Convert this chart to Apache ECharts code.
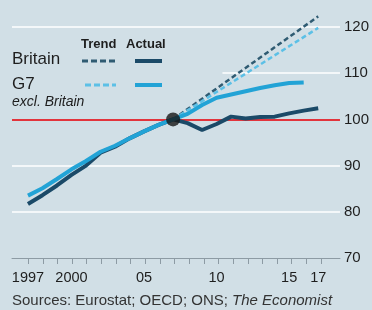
<!DOCTYPE html>
<html><head><meta charset="utf-8">
<script src="https://cdn.jsdelivr.net/npm/echarts@6/dist/echarts.min.js"></script>
<style>html,body{margin:0;padding:0;background:#d1dfe6}#c{width:372px;height:310px}</style>
</head><body><div id="c"></div>
<script>
var years = [1997,1998,1999,2000,2001,2002,2003,2004,2005,2006,2007,2008,2009,2010,2011,2012,2013,2014,2015,2016,2017];
var britainActual = [81.7,83.6,85.7,88.0,90.0,92.8,94.1,95.9,97.4,98.8,100,99.2,97.7,99.0,100.6,100.2,100.5,100.6,101.3,101.9,102.4];
var g7Actual = [83.5,85.1,87.1,89.2,91.0,93.0,94.3,95.9,97.4,98.8,100,101.2,103.1,104.7,105.4,106.1,106.8,107.4,107.9,108.0,null];
var trendYears = [2007,2017];
var britainTrend = [100,122.3];
var g7Trend = [100,119.8];
var baseYear = 2007, baseValue = 100;
var xTickYears = ['1997','1998','1999','2000','2001','2002','2003','2004','2005','2006','2007','2008','2009','2010','2011','2012','2013','2014','2015','2016','2017'];
var xLabelYears = [1997,2000,2005,2010,2015,2017];
var xLabelTexts = ['1997','2000','05','10','15','17'];
var yTicks = [70,80,90,100,110,120];

function pairs(xs, ys){ return xs.map(function(x,i){ return [x, ys[i]]; }); }

var C_BRIT = '#1b4a68', C_G7 = '#22a3d6', C_BRIT_T = '#2f5b72', C_G7_T = '#5cc0e6';
var REG = "'Liberation Sans', sans-serif";
var TXT = '#1e1e1e';
var chart = echarts.init(document.getElementById('c'), null, {renderer:'canvas'});
chart.setOption({
  backgroundColor: '#d1dfe6',
  animation: false,
  grid: [
    {left: 12, right: 29, top: 27, bottom: 52},
    {left: 20.79, right: 43.64, top: 27, bottom: 52}
  ],
  xAxis: [{
    type: 'value', min: 1995.9, max: 2018.5, gridIndex: 0,
    axisLine: {show: true, onZero: false, lineStyle: {color: '#8d9ba4', width: 1}},
    axisTick: {show: false},
    axisLabel: {customValues: xLabelYears, margin: 12, fontFamily: REG, fontSize: 14.5, color: TXT,
      formatter: function(v){ var i = xLabelYears.indexOf(Math.round(v)); return i >= 0 ? xLabelTexts[i] : ''; }},
    splitLine: {show: false}
  }, {
    type: 'category', data: xTickYears, gridIndex: 1, boundaryGap: true,
    axisLine: {show: false},
    axisTick: {show: true, alignWithLabel: true, interval: 0, length: 6, lineStyle: {color: '#8d9ba4'}},
    axisLabel: {show: false}, splitLine: {show: false}
  }],
  yAxis: [{
    type: 'value', position: 'right', min: yTicks[0], max: yTicks[yTicks.length-1], interval: 10, gridIndex: 0,
    axisLine: {show: false}, axisTick: {show: false},
    axisLabel: {margin: 4, fontFamily: REG, fontSize: 15, color: TXT},
    splitLine: {show: true, lineStyle: {width: 2, color: ['rgba(0,0,0,0)','#f3f7f9','#f3f7f9','#e2343c','rgba(0,0,0,0)','#f3f7f9']}}
  }, {
    type: 'value', gridIndex: 1, show: false, min: 0, max: 1
  }],
  series: [
    {name: 'Britain trend', type: 'line', data: pairs(trendYears, britainTrend), showSymbol: false, clip: false,
      lineStyle: {color: C_BRIT_T, width: 2.5, type: [5,3]},
      markLine: {silent: true, symbol: 'none', label: {show: false}, z: 1,
        lineStyle: {color: '#f3f7f9', width: 2, type: 'solid'},
        emphasis: {disabled: true},
        data: [[{coord: [2010.4, 110]}, {coord: [2018.5, 110]}]]}},
    {name: 'G7 trend', type: 'line', data: pairs(trendYears, g7Trend), showSymbol: false, clip: false,
      lineStyle: {color: C_G7_T, width: 2.5, type: [5,3]}},
    {name: 'Britain', type: 'line', data: pairs(years, britainActual), showSymbol: false, clip: false,
      lineStyle: {color: C_BRIT, width: 4}},
    {name: 'G7 excl. Britain', type: 'line', data: pairs(years, g7Actual), showSymbol: false, clip: false, connectNulls: false,
      lineStyle: {color: C_G7, width: 4}},
    {type: 'scatter', data: [[baseYear, baseValue]], symbolSize: 14, itemStyle: {color: '#161616'}, z: 5}
  ],
  graphic: [
    {type: 'text', left: 81, top: 38, style: {text: 'Trend', font: 'bold 13px ' + REG, fill: TXT}},
    {type: 'text', left: 126, top: 38, style: {text: 'Actual', font: 'bold 13px ' + REG, fill: TXT}},
    {type: 'text', left: 12, top: 51, style: {text: 'Britain', font: '17px ' + REG, fill: TXT}},
    {type: 'text', left: 12, top: 76, style: {text: 'G7', font: '17px ' + REG, fill: TXT}},
    {type: 'text', left: 12, top: 95, style: {text: 'excl. Britain', font: 'italic 14px ' + REG, fill: TXT}},
    {type: 'line', shape: {x1: 82, y1: 61, x2: 116, y2: 61}, style: {stroke: C_BRIT_T, lineWidth: 3, lineDash: [6,3]}},
    {type: 'line', shape: {x1: 135, y1: 61, x2: 162, y2: 61}, style: {stroke: C_BRIT, lineWidth: 4}},
    {type: 'line', shape: {x1: 85, y1: 85, x2: 116, y2: 85}, style: {stroke: C_G7_T, lineWidth: 3, lineDash: [6,3]}},
    {type: 'line', shape: {x1: 135, y1: 85, x2: 162, y2: 85}, style: {stroke: C_G7, lineWidth: 4}},
    {type: 'text', left: 12, top: 293, style: {rich: {a: {font: '15px ' + REG, fill: '#333'}, b: {font: 'italic 15px ' + REG, fill: '#333'}},
      text: '{a|Sources: Eurostat; OECD; ONS; }{b|The Economist}'}}
  ]
});
</script>
</body></html>
